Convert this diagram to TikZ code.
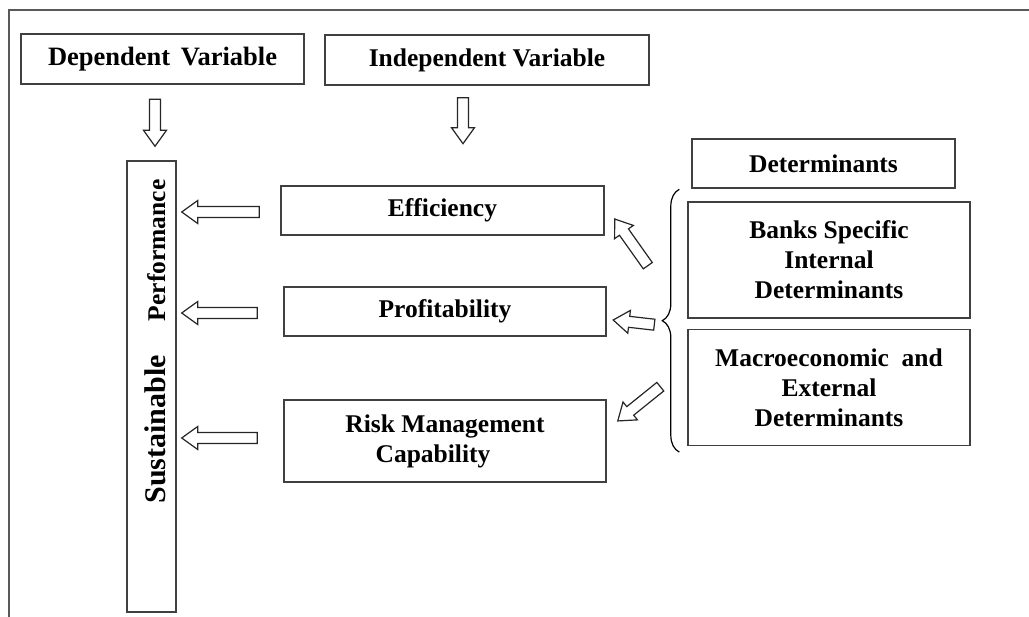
\documentclass[tikz,border=0pt]{standalone}
\usepackage{fontspec}
\setmainfont{Liberation Serif}
\usetikzlibrary{positioning}
\usetikzlibrary{calc}
\usetikzlibrary{decorations.pathreplacing}

\begin{document}
\begin{tikzpicture}[x=1pt,y=1pt,
    font=\fontsize{25.5}{30}\selectfont\bfseries,
    box/.style={draw=black!75, line width=1.4pt, inner sep=0pt, align=center},
    hollow/.style={draw=black!85, line width=1.2pt, fill=white,
      to path={let \p1=($(\tikztotarget)-(\tikztostart)$),
        \n1={veclen(\x1,\y1)}, \n2={atan2(\y1,\x1)} in
        [shift={(\tikztostart)}, rotate=\n2]
        (0,-5.5) -- (\n1-16,-5.5) -- (\n1-16,-11.5) -- (\n1,0)
        -- (\n1-16,11.5) -- (\n1-16,5.5) -- (0,5.5) -- cycle}}]
  \useasboundingbox (0,0) rectangle (1029,-617);
  \draw[black!65, line width=1.4pt] (1029,-10) -- (9,-10) -- (9,-617);

  \node[box, minimum width=283, minimum height=50] (dep) at (162.5,-59)
    {\fontsize{26.5}{30}\selectfont Dependent\hspace{0.4em}Variable};
  \node[box, minimum width=324, minimum height=50] (indep) at (487,-60) {Independent Variable};
  \node[box, minimum width=49, minimum height=451] (sust) at (151.5,-386.5) {};
  \node[rotate=90, anchor=base] (sustlbl) at (165,-341.5)
    {{\fontsize{30}{30}\selectfont Sustainable}\hspace{34pt}Performance};

  \node[box, minimum width=323, minimum height=49] (eff) at (442.5,-210.5) {Efficiency};
  \node[box, minimum width=322, minimum height=49] (prof) at (445,-311.5) {Profitability};
  \node[box, minimum width=322, minimum height=82] (risk) at (445,-441)
    {Risk Management\\Capability\hspace{24pt}\mbox{}};

  \node[box, minimum width=263, minimum height=49] (det) at (823.5,-163.5) {Determinants};
  \node[box, minimum width=282, minimum height=116] (bank) at (829,-260)
    {Banks Specific\\Internal\\Determinants};
  \node[box, minimum width=282, minimum height=116, below=10 of bank] (macro)
    {Macroeconomic\hspace{0.5em}and\\External\\Determinants};

  \draw[line width=1.2pt, decorate, decoration={brace, amplitude=17}]
    ($(macro.south west)+(-8,-6)$) -- ($(bank.north west)+(-8,12)$);
  \coordinate (brtip) at ($(bank.west)!.5!(macro.west)+(-25,3)$);

  \coordinate (d1s) at ($(sust.north)+(3.5,61)$);
  \coordinate (d1e) at ($(sust.north)+(3.5,14)$);
  \coordinate (d2s) at ($(indep.south)+(-24,-12)$);
  \coordinate (d2e) at ($(indep.south)+(-24,-58)$);
  \draw[hollow] (d1s) to (d1e);
  \draw[hollow] (d2s) to (d2e);

  \foreach \b/\dx/\dy in {eff/-21/-1.5, prof/-26/-1.5, risk/-26/3} {
    \coordinate (\b-s) at ($(\b.west)+(\dx,\dy)$);
    \coordinate (\b-e) at ($(sust.east |- \b-s)+(5,0)$);
    \draw[hollow] (\b-s) to (\b-e);
  }

  \coordinate (u-s) at ($(brtip)+(-14.5,55)$);
  \coordinate (u-e) at ($(eff.east)+(10,-8.5)$);
  \coordinate (m-s) at ($(brtip)+(-8,-4)$);
  \coordinate (m-e) at ($(prof.east)+(6.5,-8.5)$);
  \coordinate (l-s) at ($(brtip)+(-2,-66)$);
  \coordinate (l-e) at ($(risk.east)+(11,20)$);
  \draw[hollow] (u-s) to (u-e);
  \draw[hollow] (m-s) to (m-e);
  \draw[hollow] (l-s) to (l-e);
\end{tikzpicture}
\end{document}
